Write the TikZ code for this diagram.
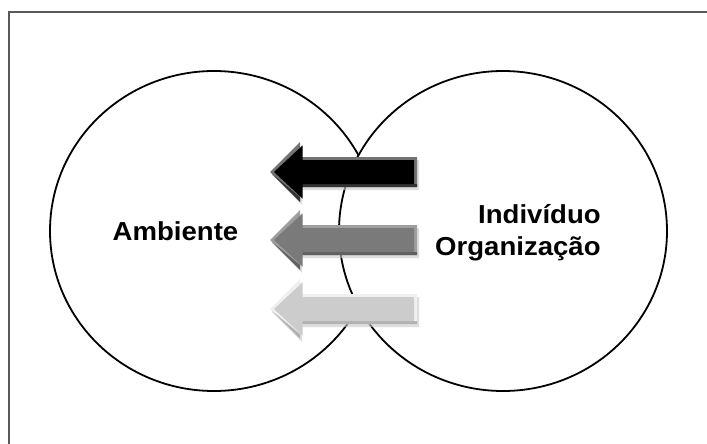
\documentclass[tikz,border=0pt]{standalone}
\usepackage{fontspec}
\setmainfont{Liberation Sans}[FakeStretch=1.06]
\usetikzlibrary{shapes.geometric}
\begin{document}
\begin{tikzpicture}[x=1pt,y=-1pt,
  ring/.style={ellipse,draw=black,line width=1.8pt,fill=white,inner sep=0pt,
    minimum width=328pt,minimum height=320pt},
  label/.style={font=\bfseries\fontsize{26}{30}\selectfont,inner sep=0pt,anchor=base west},
  pics/blockarrow/.style n args={3}{code={
    % soft drop shadow
    \fill[black!22,opacity=0.6] (2,3) -- (32,-27) -- (32,-12) -- (149,-12) -- (149,18) -- (32,18) -- (32,33) -- cycle;
    % bevel rim
    \fill[#1] (0,0) -- (30,-30) -- (30,-15) -- (147,-15) -- (147,15) -- (30,15) -- (30,30) -- cycle;
    % darker lower rim
    \fill[#3] (1.5,1.5) -- (30,30) -- (30,15) -- (147,15) -- (147,12) -- (30,12) -- (30,25) -- cycle;
    % face of the arrow
    \fill[#2] (4,0) -- (32.5,-26.5) -- (32.5,-12) -- (144,-12) -- (144,12) -- (32.5,12) -- (32.5,26.5) -- cycle;
  }}]
\useasboundingbox (0,0) rectangle (707,444);

% outer frame (only top and left edges fall on the page)
\draw[line width=1.6pt,black!65] (9,460) -- (9,12) -- (720,12);

% the two rings
\node[ring] (amb) at (214,231) {};
\node[ring] (ind) at (503,231) {};

% block arrows
\pic (a1) at (270,172) {blockarrow={black!55}{black}{black!80}};
\pic (a2) at (270,240) {blockarrow={black!38}{black!52}{black!62}};
\pic (a3) at (270,309) {blockarrow={black!6}{black!20}{black!30}};

% labels
\node[label] (tamb) at (112.5,240.5) {Ambiente};
\node[label] (tind) at (478,223) {Indivíduo};
\node[label] (torg) at (435,255) {Organização};
\end{tikzpicture}
\end{document}
